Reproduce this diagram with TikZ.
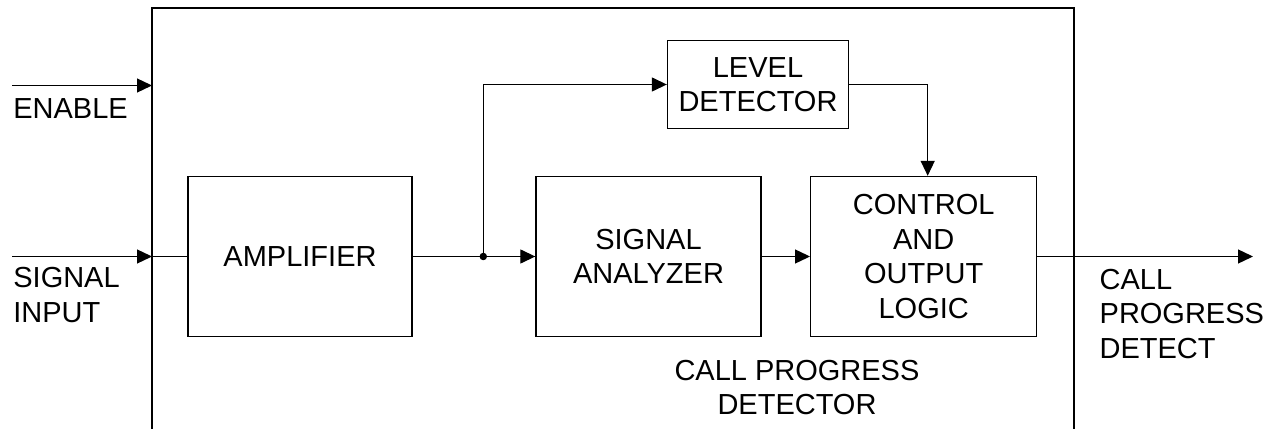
\documentclass[tikz,border=0pt]{standalone}
\usepackage{fontspec}
\setmainfont{Liberation Sans}
\usepackage{tikz}
\usetikzlibrary{arrows.meta, positioning}
\tikzset{>={Triangle[length=0.3cm,width=0.28cm]}}
\tikzset{block/.style = {shape=rectangle,draw,line width=0.8pt,align=center,inner sep=0pt}}
\tikzset{tag/.style = {inner sep=0pt,align=left}}

\begin{document}
\begin{tikzpicture}[x=0.02cm,y=-0.02cm,line width=0.75pt,font=\fontsize{16.5}{19.6}\selectfont]
  \useasboundingbox (0,0) rectangle (1272,429);

  % outer frame, open at the bottom
  \coordinate (f1) at (152,429);
  \coordinate (f2) at (152,8);
  \coordinate (f3) at (1074,8);
  \coordinate (f4) at (1074,429);
  \draw (f1) -- (f2) -- (f3) -- (f4);

  \node[block, minimum width=4.48cm, minimum height=3.2cm] (amp) at (300,256.5) {AMPLIFIER};
  \node[block, minimum width=4.5cm, minimum height=3.2cm] (ana) at (648.5,256.5) {SIGNAL\\ANALYZER};
  \node[block, minimum width=3.62cm, minimum height=1.76cm] (lev) at (758,84.5) {LEVEL\\DETECTOR};
  \node[block, minimum width=4.52cm, minimum height=3.2cm] (ctl) at (923.7,256.5) {CONTROL\\AND\\OUTPUT\\LOGIC};

  \coordinate (en) at (12,85.5);
  \coordinate (enf) at (152,85.5);
  \coordinate (si) at (12,256.5);
  \coordinate (sif) at (152,256.5);
  \coordinate (j) at (483.3,256.5);
  \coordinate (out) at (1253,256.5);

  \draw[->] (en) -- (enf);
  \draw[->] (si) -- (sif);
  \draw (sif) -- (amp.west);
  \draw (amp.east) -- (j);
  \draw[->] (j) -- (ana.west);
  \draw[->] (j) |- (lev.west);
  \fill (j) circle (0.075cm);
  \draw[->] (ana.east) -- (ctl.west);
  \draw[->] (lev.east) -| ([xshift=0.08cm]ctl.north);
  \draw[->] (ctl.east) -- (out);

  \node[tag, anchor=north west] (enl) at (12.7,98) {ENABLE};
  \node[tag, anchor=north west] (sil) at (12.7,266.7) {SIGNAL\\INPUT};
  \node[tag, anchor=north west] (outl) at (1099,268.3) {CALL\\PROGRESS\\DETECT};
  \node[tag, align=center, anchor=north] (cpd) at (797,359.3) {CALL PROGRESS\\DETECTOR};
\end{tikzpicture}
\end{document}
